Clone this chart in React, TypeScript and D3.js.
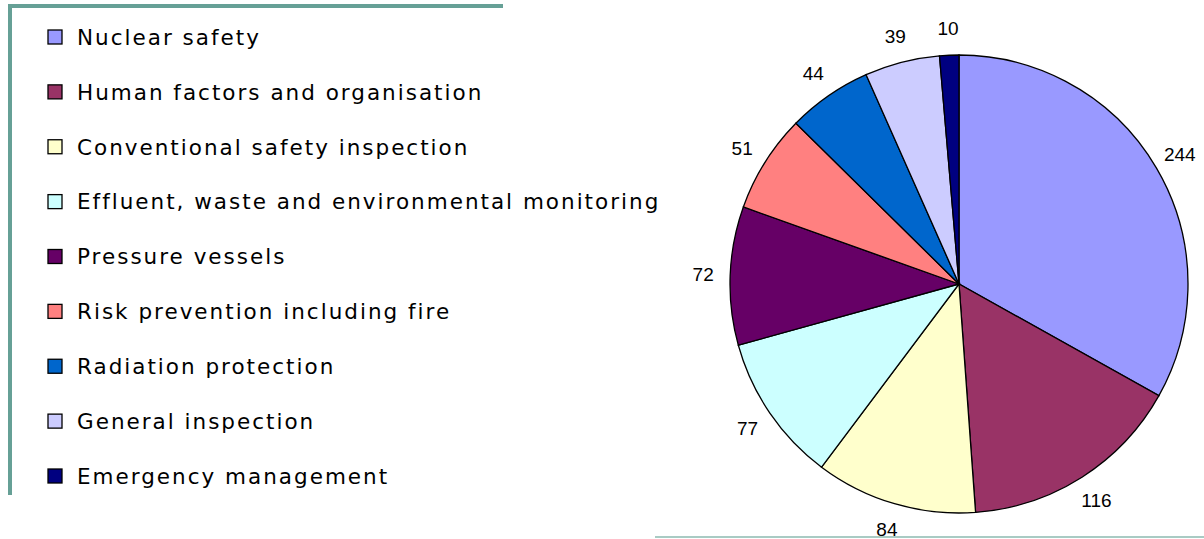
import React from 'react';
import * as d3 from 'd3';

const categories = [
  'Nuclear safety',
  'Human factors and organisation',
  'Conventional safety inspection',
  'Effluent, waste and environmental monitoring',
  'Pressure vessels',
  'Risk prevention including fire',
  'Radiation protection',
  'General inspection',
  'Emergency management',
];
const values = [244, 116, 84, 77, 72, 51, 44, 39, 10];
const colors = ['#9999ff', '#993366', '#ffffcc', '#ccffff', '#660066', '#ff8080', '#0066cc', '#ccccff', '#000080'];

const W = 1204;
const H = 539;
const cx = 959;
const cy = 284;
const radius = 229;
const labelRadius = 256;

export default function App() {
  const data = categories.map((c, i) => ({ name: c, value: values[i], color: colors[i] }));
  const pie = d3.pie<typeof data[0]>().value(d => d.value).sort(null);
  const arcs = pie(data);
  const arc = d3.arc<d3.PieArcDatum<typeof data[0]>>().innerRadius(0).outerRadius(radius);
  const labelArc = d3.arc<d3.PieArcDatum<typeof data[0]>>().innerRadius(labelRadius).outerRadius(labelRadius);

  const legendY = d3.scaleLinear().domain([0, categories.length - 1]).range([37, 476]);

  return (
    <svg width={W} height={H} style={{ position: 'absolute', left: 0, top: 0 }}>
      <rect width={W} height={H} fill="#fff" />
      {/* decorative frame */}
      <line x1={8} y1={6} x2={503} y2={6} stroke="#66a096" strokeWidth={4} />
      <line x1={10} y1={4} x2={10} y2={495} stroke="#66a096" strokeWidth={4} />
      <line x1={655} y1={537} x2={W} y2={537} stroke="#a9cbc4" strokeWidth={2} />

      <g>
        {data.map((d, i) => (
          <g key={d.name} transform={`translate(0,${legendY(i)})`}>
            <rect x={48} y={-7} width={14} height={14} fill={d.color} stroke="#000" strokeWidth={1.3} />
            <text
              x={77}
              y={0}
              dy="0.36em"
              fontFamily="'DejaVu Sans', sans-serif"
              fontSize={21.5}
              letterSpacing={2}
              fill="#000"
            >
              {d.name}
            </text>
          </g>
        ))}
      </g>

      <g transform={`translate(${cx},${cy})`}>
        {arcs.map(a => (
          <path key={a.data.name} d={arc(a) || ''} fill={a.data.color} stroke="#000" strokeWidth={1.3} />
        ))}
        {arcs.map(a => {
          const [lx, ly] = labelArc.centroid(a);
          return (
            <text
              key={'l' + a.data.name}
              x={lx}
              y={ly}
              dy="0.35em"
              textAnchor="middle"
              fontFamily="'Liberation Sans', Arial, sans-serif"
              fontSize={19}
              fill="#000"
            >
              {a.data.value}
            </text>
          );
        })}
      </g>
    </svg>
  );
}
